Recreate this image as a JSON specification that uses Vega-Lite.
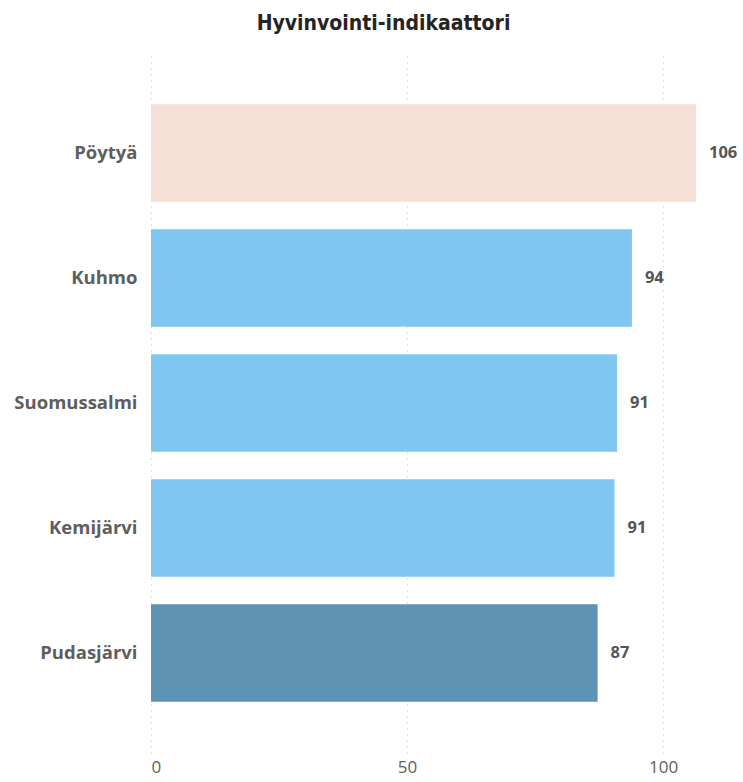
{
  "$schema": "https://vega.github.io/schema/vega-lite/v6.json",
  "autosize": {"type": "none"},
  "width": 589,
  "height": 700,
  "padding": {"left": 151, "top": 53, "right": 3, "bottom": 29},
  "background": "white",
  "title": {
    "text": "Hyvinvointi-indikaattori",
    "font": "DejaVu Sans Condensed",
    "fontSize": 21,
    "fontWeight": "bold",
    "color": "#252423",
    "anchor": "middle",
    "frame": "group",
    "dx": -62,
    "offset": 19
  },
  "data": {
    "values": [
      {"kunta": "Pöytyä", "arvo": 106.4, "ryhma": "a"},
      {"kunta": "Kuhmo", "arvo": 93.9, "ryhma": "b"},
      {"kunta": "Suomussalmi", "arvo": 91.0, "ryhma": "b"},
      {"kunta": "Kemijärvi", "arvo": 90.5, "ryhma": "b"},
      {"kunta": "Pudasjärvi", "arvo": 87.2, "ryhma": "c"}
    ]
  },
  "encoding": {
    "y": {
      "field": "kunta",
      "type": "nominal",
      "sort": null,
      "scale": {"paddingInner": 0.22, "paddingOuter": 0.41},
      "axis": {
        "title": null,
        "domain": false,
        "ticks": false,
        "grid": false,
        "labelFont": "Open Sans",
        "labelFontSize": 18.5,
        "labelFontWeight": "bold",
        "labelColor": "#605E5C",
        "labelPadding": 14
      }
    },
    "x": {
      "field": "arvo",
      "type": "quantitative",
      "scale": {"domain": [0, 115], "nice": false},
      "axis": {
        "title": null,
        "values": [0, 50, 100],
        "domain": false,
        "ticks": false,
        "grid": true,
        "gridColor": "#C8C6C4",
        "gridDash": [1, 5],
        "gridWidth": 1,
        "labelFont": "Open Sans",
        "labelFontSize": 17,
        "labelColor": "#605E5C",
        "labelPadding": 6
      }
    }
  },
  "layer": [
    {
      "mark": {"type": "bar"},
      "encoding": {
        "color": {
          "field": "ryhma",
          "type": "nominal",
          "scale": {"domain": ["a", "b", "c"], "range": ["#F6E0D6", "#7FC6F0", "#5E93B3"]},
          "legend": null
        }
      }
    },
    {
      "mark": {
        "type": "text",
        "align": "left",
        "baseline": "middle",
        "dx": 13,
        "font": "Open Sans",
        "fontSize": 16.5,
        "fontWeight": "bold",
        "color": "#555555"
      },
      "encoding": {
        "text": {"field": "arvo", "type": "quantitative", "format": ".0f"}
      }
    }
  ],
  "config": {"view": {"stroke": null}}
}
